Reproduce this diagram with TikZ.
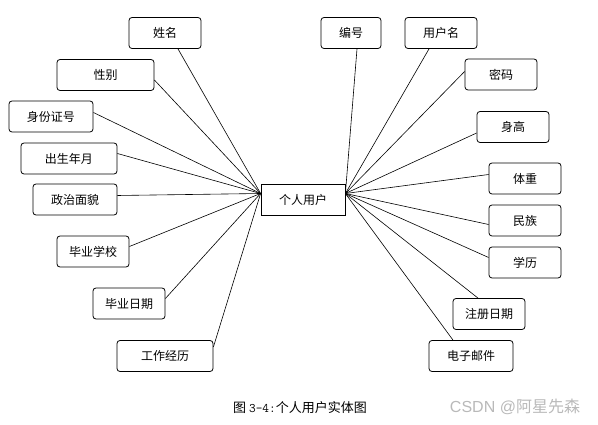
\documentclass[tikz,border=0pt]{standalone}
\usepackage{fontspec}
\setmainfont{Noto Sans CJK SC}
\newfontfamily\wmfont{Liberation Sans}
\begin{document}
\begin{tikzpicture}[x=1pt,y=-1pt,
    attr/.style={draw,rounded corners=3pt,inner sep=0pt,minimum height=31pt,line width=0.8pt,font=\fontsize{12}{14}\selectfont},
    ent/.style={draw,inner sep=0pt,minimum width=84pt,minimum height=31pt,line width=0.8pt,font=\fontsize{12}{14}\selectfont},
    link/.style={line width=0.6pt}]
\useasboundingbox (0,0) rectangle (598,425);
\node[ent] (user) at (303,199.5) {个人用户};                 % entity
% left side
\node[attr,minimum width=72pt] (name)   at (165,33)    {姓名};
\node[attr,minimum width=97pt] (gender) at (105.5,75)  {性别};
\node[attr,minimum width=84pt] (idno)   at (51,116.5)  {身份证号};
\node[attr,minimum width=96pt] (birth)  at (69,158.5)  {出生年月};
\node[attr,minimum width=84pt] (party)  at (75,199.5)  {政治面貌};
\node[attr,minimum width=72pt] (school) at (93,251.5)  {毕业学校};
\node[attr,minimum width=72pt] (gdate)  at (129,303.5) {毕业日期};
\node[attr,minimum width=96pt] (work)   at (165,356)   {工作经历};
% right side
\node[attr,minimum width=60pt] (no)     at (351,33)    {编号};
\node[attr,minimum width=72pt] (uname)  at (441,33)    {用户名};
\node[attr,minimum width=72pt] (pwd)    at (501,74.5)  {密码};
\node[attr,minimum width=72pt] (height) at (513,127)   {身高};
\node[attr,minimum width=72pt] (weight) at (525,178.5) {体重};
\node[attr,minimum width=72pt] (nation) at (525,220.5) {民族};
\node[attr,minimum width=72pt] (edu)    at (525,262.5) {学历};
\node[attr,minimum width=72pt] (reg)    at (489,314)   {注册日期};
\node[attr,minimum width=84pt] (mail)   at (471,356)   {电子邮件};
% links to the entity
\draw[link] ([xshift=13pt]name.south)  -- ([yshift=6pt]user.west);
\draw[link] ([yshift=-5pt]gender.east) -- ([yshift=6pt]user.west);
\draw[link] ([yshift=4pt]idno.east)    -- ([yshift=6pt]user.west);
\draw[link] ([yshift=5pt]birth.east)   -- ([yshift=6pt]user.west);
\draw[link] ([yshift=4pt]party.east)   -- ([yshift=6pt]user.west);
\draw[link] ([yshift=5pt]school.east)  -- ([yshift=6pt]user.west);
\draw[link] ([yshift=5pt]gdate.east)   -- ([yshift=6pt]user.west);
\draw[link] ([yshift=9pt]work.east)    -- ([yshift=6pt]user.west);
\draw[link] ([xshift=6pt]no.south)     -- ([yshift=6pt]user.east);
\draw[link] ([xshift=-12pt]uname.south) -- ([yshift=6pt]user.east);
\draw[link] ([yshift=3pt]pwd.west)     -- ([yshift=6pt]user.east);
\draw[link] ([yshift=-6pt]height.west) -- ([yshift=6pt]user.east);
\draw[link] ([yshift=4pt]weight.west)  -- ([yshift=6pt]user.east);
\draw[link] ([yshift=-4pt]nation.west) -- ([yshift=6pt]user.east);
\draw[link] ([yshift=5pt]edu.west)     -- ([yshift=6pt]user.east);
\draw[link] ([xshift=-11pt]reg.north)  -- ([yshift=6pt]user.east);
\draw[link] ([xshift=-18pt]mail.north) -- ([yshift=6pt]user.east);
% caption and mark
\node (cap) at (300,408) {\fontsize{13}{15}\selectfont 图 {\ttfamily 3-4:}个人用户实体图};
\node[text=gray!55] (wm) at (515,407) {\fontsize{16}{18}\selectfont{\wmfont CSDN @}阿星先森};
\end{tikzpicture}
\end{document}
